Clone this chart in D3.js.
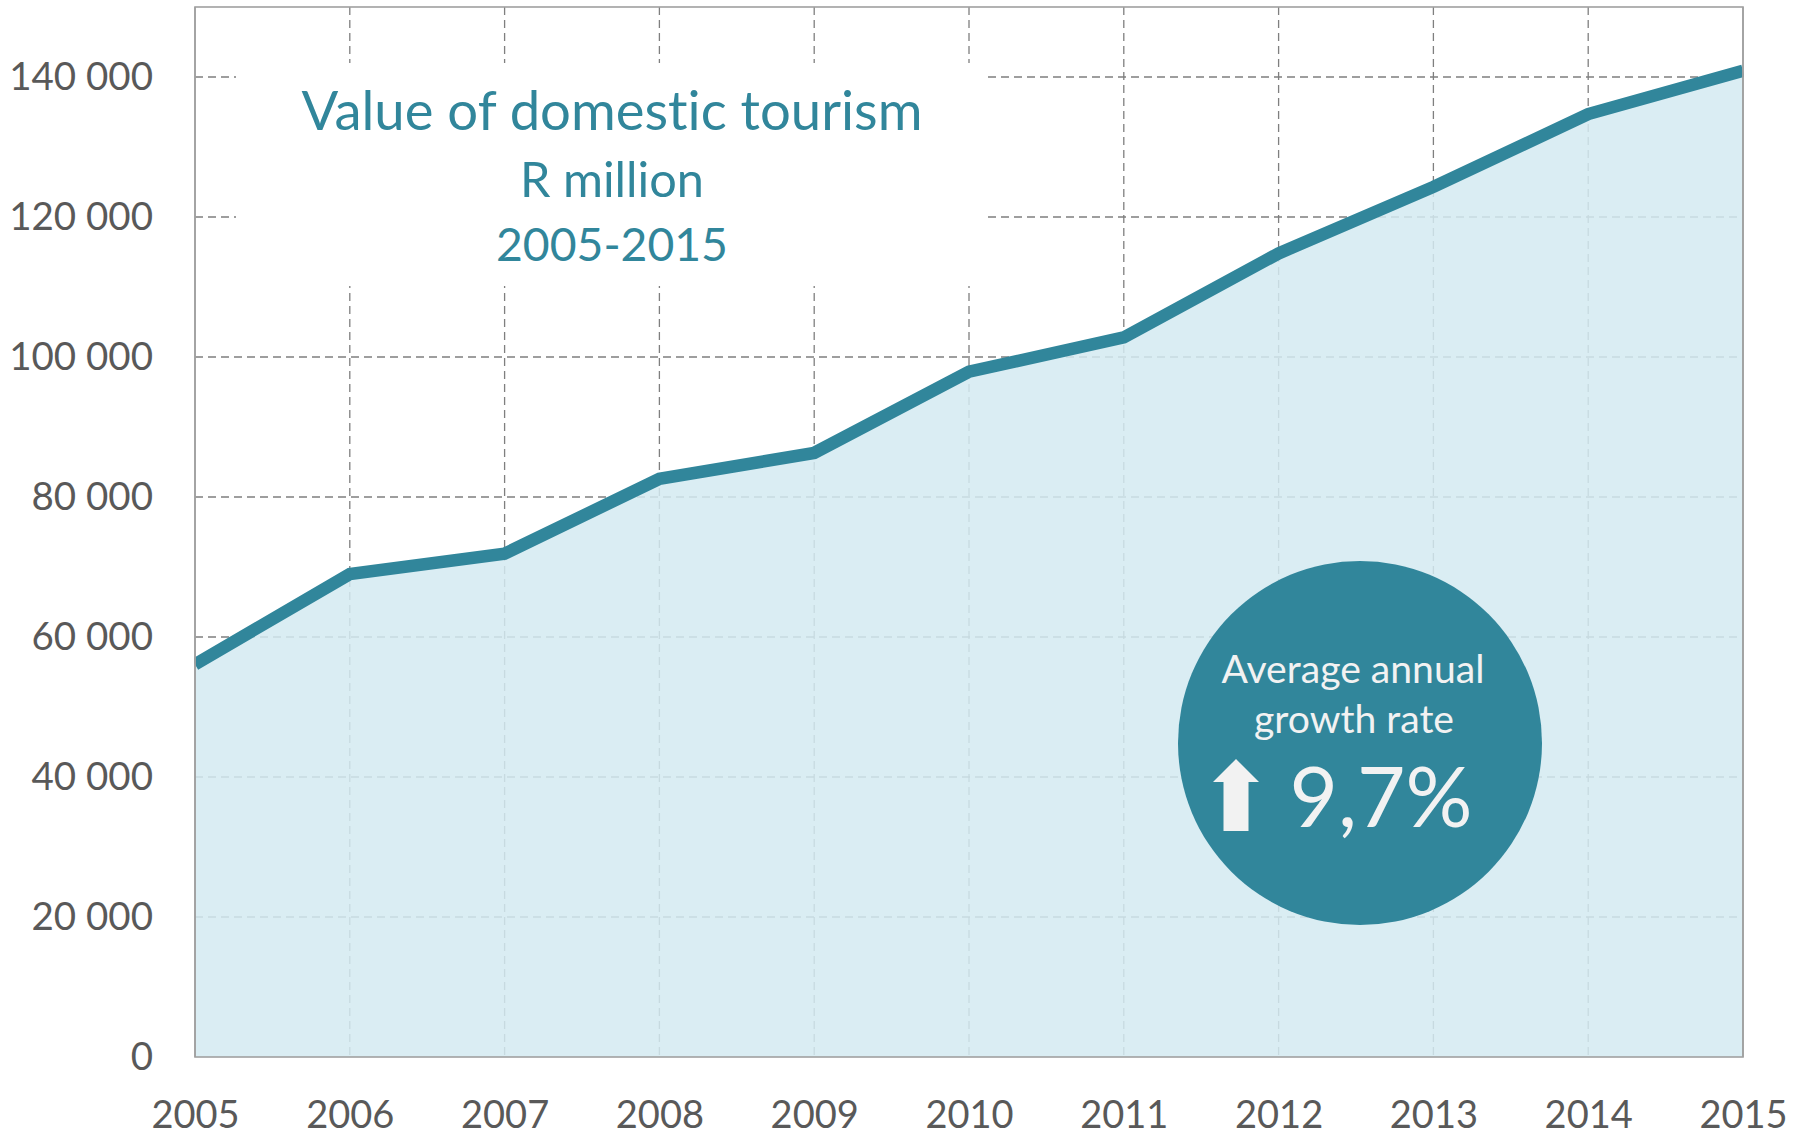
<!DOCTYPE html>
<html>
<head>
<meta charset="utf-8">
<script src="https://cdn.jsdelivr.net/npm/d3@7"></script>
<style>
  html, body { margin: 0; padding: 0; background: #ffffff; }
  svg { display: block; }
  text { font-family: Lato, "Open Sans", "Noto Sans", sans-serif; font-variant-ligatures: none; }
</style>
</head>
<body>
<svg id="chart" width="1806" height="1136"></svg>
<script>
// ---- data ----
const years = [2005, 2006, 2007, 2008, 2009, 2010, 2011, 2012, 2013, 2014, 2015];
const values = [56100, 69000, 71900, 82600, 86300, 97900, 102800, 114800, 124300, 134700, 140900];
const yTickValues = [0, 20000, 40000, 60000, 80000, 100000, 120000, 140000];
const yTickLabels = ["0", "20 000", "40 000", "60 000", "80 000", "100 000", "120 000", "140 000"];
const xTickLabels = ["2005", "2006", "2007", "2008", "2009", "2010", "2011", "2012", "2013", "2014", "2015"];
const titleLines = ["Value of domestic tourism", "R million", "2005-2015"];
const badgeLines = ["Average annual", "growth rate"];
const badgeValue = "9,7%";

// ---- layout ----
const W = 1806, H = 1136;
const L = 195, R = 1743, T = 7, B = 1057;
const teal = "#31869b";
const textGray = "#595959";

const svg = d3.select("#chart");

const x = d3.scaleLinear().domain([2005, 2015]).range([L, R]);
const y = d3.scaleLinear().domain([0, 150000]).range([B, T]);

// gridlines
const grid = svg.append("g").attr("class", "grid");
grid.selectAll("line.h").data(yTickValues.filter(v => v > 0)).join("line")
  .attr("class", "h")
  .attr("x1", L).attr("x2", R)
  .attr("y1", d => y(d)).attr("y2", d => y(d))
  .attr("stroke", "#7f7f7f").attr("stroke-width", 1.3)
  .attr("stroke-dasharray", "8,5");
grid.selectAll("line.v").data(years.slice(1, -1)).join("line")
  .attr("class", "v")
  .attr("x1", d => x(d)).attr("x2", d => x(d))
  .attr("y1", T).attr("y2", B)
  .attr("stroke", "#7f7f7f").attr("stroke-width", 1.3)
  .attr("stroke-dasharray", "8,5");

// white title box hiding gridlines
svg.append("rect")
  .attr("x", 236).attr("y", 63).attr("width", 752).attr("height", 223)
  .attr("fill", "#ffffff");

// area
const area = d3.area()
  .x((d, i) => x(years[i]))
  .y0(y(0))
  .y1(d => y(d));
svg.append("path")
  .datum(values)
  .attr("d", area)
  .attr("fill", "rgb(211,234,241)")
  .attr("fill-opacity", 0.85);

// line
const line = d3.line()
  .x((d, i) => x(years[i]))
  .y(d => y(d));
svg.append("path")
  .datum(values)
  .attr("d", line)
  .attr("fill", "none")
  .attr("stroke", teal)
  .attr("stroke-width", 12.5)
  .attr("stroke-linejoin", "miter");

// plot border
svg.append("rect")
  .attr("x", L).attr("y", T).attr("width", R - L).attr("height", B - T)
  .attr("fill", "none")
  .attr("stroke", "#a0a0a0").attr("stroke-width", 1.6);

// cover line overshoot outside the plot
svg.append("rect").attr("x", R + 1).attr("y", 0).attr("width", W - R - 1).attr("height", B)
  .attr("fill", "#fff");
svg.append("rect").attr("x", 0).attr("y", 0).attr("width", L - 1).attr("height", B)
  .attr("fill", "#fff");
svg.append("line").attr("x1", R).attr("x2", R).attr("y1", T).attr("y2", B)
  .attr("stroke", "#a0a0a0").attr("stroke-width", 1.6);
svg.append("line").attr("x1", L).attr("x2", L).attr("y1", T).attr("y2", B)
  .attr("stroke", "#a0a0a0").attr("stroke-width", 1.6);

// axes
const yAxis = d3.axisLeft(y)
  .tickValues(yTickValues)
  .tickFormat((d, i) => yTickLabels[i])
  .tickSize(0)
  .tickPadding(42);
const gy = svg.append("g").attr("transform", `translate(${L},0)`).call(yAxis);
gy.select(".domain").remove();
gy.selectAll("text")
  .attr("fill", textGray)
  .style("font-size", "38.5px")
  .style("font-family", "Lato, 'Open Sans', sans-serif");

const xAxis = d3.axisBottom(x)
  .tickValues(years)
  .tickFormat((d, i) => xTickLabels[i])
  .tickSize(0)
  .tickPadding(44);
const gx = svg.append("g").attr("transform", `translate(0,${B})`).call(xAxis);
gx.select(".domain").remove();
gx.selectAll("text")
  .attr("fill", textGray)
  .style("font-size", "38px")
  .style("font-family", "Lato, 'Open Sans', sans-serif");

// helper: fit text width
function fitSize(sel, target, nominal) {
  sel.style("font-size", nominal + "px");
  const w = sel.node().getComputedTextLength();
  return nominal * target / w;
}

// title
const titleX = 612;
const titleBaselines = [130, 197, 261];
const titleWidths = [621, 184, 232];
const tt = svg.append("g").attr("class", "title");
tt.selectAll("text").data(titleLines).join("text")
  .attr("x", titleX).attr("y", (d, i) => titleBaselines[i])
  .attr("text-anchor", "middle").attr("fill", teal).text(d => d)
  .each(function (d, i) {
    const s = d3.select(this);
    s.style("font-size", fitSize(s, titleWidths[i], 50) + "px");
  });

// badge
const cx = 1360, cy = 743, cr = 182;
const badge = svg.append("g").attr("class", "badge");
badge.append("circle").attr("cx", cx).attr("cy", cy).attr("r", cr).attr("fill", teal);
const b0 = badge.append("text").attr("x", cx - 7).attr("y", cy - 60)
  .attr("text-anchor", "middle").attr("fill", "#f2f2f2").text(badgeLines[0]);
const bSize = fitSize(b0, 263, 36);
b0.style("font-size", bSize + "px");
badge.append("text").attr("x", cx - 6).attr("y", cy - 10)
  .attr("text-anchor", "middle").attr("fill", "#f2f2f2")
  .style("font-size", bSize + "px").text(badgeLines[1]);
const bv = badge.append("text").attr("x", cx + 21).attr("y", cy + 84)
  .attr("text-anchor", "middle").attr("fill", "#f2f2f2").text(badgeValue);
const vSize = fitSize(bv, 183, 80);
bv.style("font-size", vSize + "px");
// up arrow glyph (relative to badge centre)
const ax = cx - 124;
const arrowPts = [
  [ax, cy + 16], [ax + 23, cy + 39], [ax + 12.5, cy + 39], [ax + 12.5, cy + 88],
  [ax - 12.5, cy + 88], [ax - 12.5, cy + 39], [ax - 23, cy + 39]
];
badge.append("polygon").attr("points", arrowPts.map(p => p.join(",")).join(" "))
  .attr("fill", "#f2f2f2");
</script>
</body>
</html>
